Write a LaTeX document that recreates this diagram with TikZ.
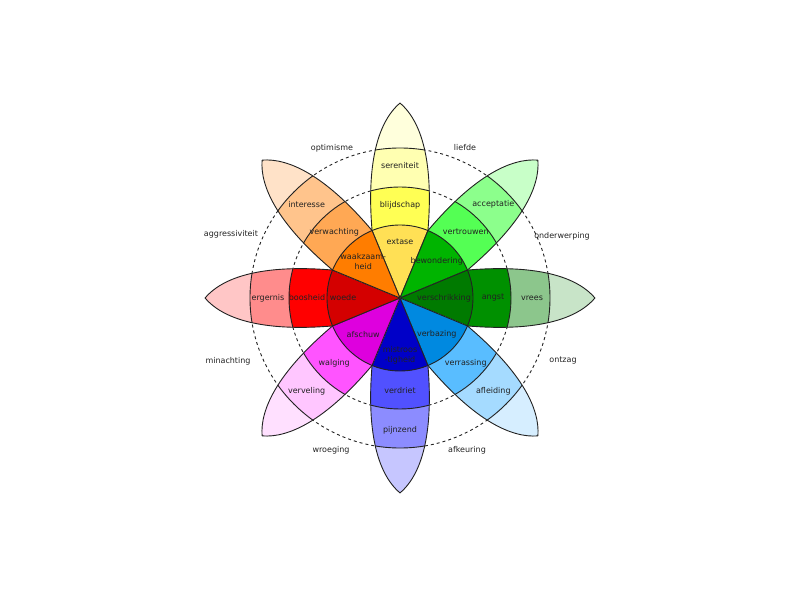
\documentclass[tikz,border=0pt]{standalone}
\usepackage{fontspec}
\setmainfont{DejaVu Sans}
\usepackage{tikz}

% kleuren per blad: punt, buitenring, middenring, kern
\definecolor{tip1}{HTML}{FFFFDC}\definecolor{ring1}{HTML}{FFFFB1}\definecolor{mid1}{HTML}{FFFF54}\definecolor{core1}{HTML}{FFE055}
\definecolor{tip2}{HTML}{C8FFC8}\definecolor{ring2}{HTML}{8CFF8C}\definecolor{mid2}{HTML}{54FF54}\definecolor{core2}{HTML}{00B400}
\definecolor{tip3}{HTML}{C8E4C8}\definecolor{ring3}{HTML}{8CC68C}\definecolor{mid3}{HTML}{009000}\definecolor{core3}{HTML}{007A00}
\definecolor{tip4}{HTML}{D6EEFF}\definecolor{ring4}{HTML}{A5DBFF}\definecolor{mid4}{HTML}{59BDFF}\definecolor{core4}{HTML}{0089E0}
\definecolor{tip5}{HTML}{C6C6FF}\definecolor{ring5}{HTML}{8C8CFF}\definecolor{mid5}{HTML}{5151FF}\definecolor{core5}{HTML}{0000C8}
\definecolor{tip6}{HTML}{FFE0FF}\definecolor{ring6}{HTML}{FFC6FF}\definecolor{mid6}{HTML}{FF54FF}\definecolor{core6}{HTML}{DE00DE}
\definecolor{tip7}{HTML}{FFC6C6}\definecolor{ring7}{HTML}{FF8C8C}\definecolor{mid7}{HTML}{FF0000}\definecolor{core7}{HTML}{D40000}
\definecolor{tip8}{HTML}{FFE2C8}\definecolor{ring8}{HTML}{FFC48C}\definecolor{mid8}{HTML}{FFA854}\definecolor{core8}{HTML}{FF7D00}
\definecolor{rand}{HTML}{222222}

\newcommand{\bladpad}{(0,0) -- (22.5:73) .. controls (140,34) and (178,20) .. (195,0) .. controls (178,-20) and (140,-34) .. (-22.5:73) -- cycle}

\begin{document}
\begin{tikzpicture}[x=1pt, y=1pt,
    omtrek/.style={draw=rand, line width=0.9pt, line join=round},
    streep/.style={draw=rand, line width=0.9pt, dash pattern=on 3pt off 3pt},
    label/.style={font=\fontsize{8}{10}\selectfont, text=rand, inner sep=0pt, align=center}]
    \useasboundingbox (-400,-301) rectangle (400,298);

    % stippelcirkels
    \draw[streep] (0,0) circle (111pt);
    \draw[streep] (0,0) circle (150pt);

    % bladen
    \foreach \i/\a in {1/90, 2/45, 3/0, 4/-45, 5/-90, 6/-135, 7/180, 8/135} {
        \begin{scope}[rotate=\a]
            \begin{scope}
                \clip \bladpad;
                \fill[tip\i] (-10,-40) rectangle (200,40);
                \fill[ring\i] (0,0) circle (150pt);
                \fill[mid\i] (0,0) circle (111pt);
                \fill[core\i] (0,0) circle (73pt);
                \draw[omtrek] (0,0) circle (111pt);
                \draw[omtrek] (0,0) circle (150pt);
            \end{scope}
            \draw[omtrek] \bladpad;
        \end{scope}
    }
    \draw[omtrek] (0,0) circle (73pt);

    % emoties
    \foreach \i/\a/\r/\kern/\midden/\buiten in {
        1/90/56/extase/blijdschap/sereniteit,
        2/45/52/bewondering/vertrouwen/acceptatie,
        3/0/44/verschrikking/angst/vrees,
        4/-45/52/verbazing/verrassing/afleiding,
        5/-90/57/{mistroos\\-tigheid}/verdriet/pijnzend,
        6/-135/52/afschuw/walging/verveling,
        7/180/57/woede/boosheid/ergernis,
        8/135/52/{waakzaam-\\heid}/verwachting/interesse} {
        \node[label] (kern\i) at (\a:\r) {\kern};
        \node[label] (midden\i) at (\a:93) {\midden};
        \node[label] (buiten\i) at (\a:132) {\buiten};
    }

    % combinaties
    \node[label] (optimisme) at (-68,150) {optimisme};
    \node[label] (liefde) at (65,150) {liefde};
    \node[label] (onderwerping) at (162,62) {onderwerping};
    \node[label] (ontzag) at (163,-63) {ontzag};
    \node[label] (afkeuring) at (67,-152) {afkeuring};
    \node[label] (wroeging) at (-69,-152) {wroeging};
    \node[label] (minachting) at (-172,-63) {minachting};
    \node[label] (aggressiviteit) at (-169,64) {aggressiviteit};
\end{tikzpicture}
\end{document}
